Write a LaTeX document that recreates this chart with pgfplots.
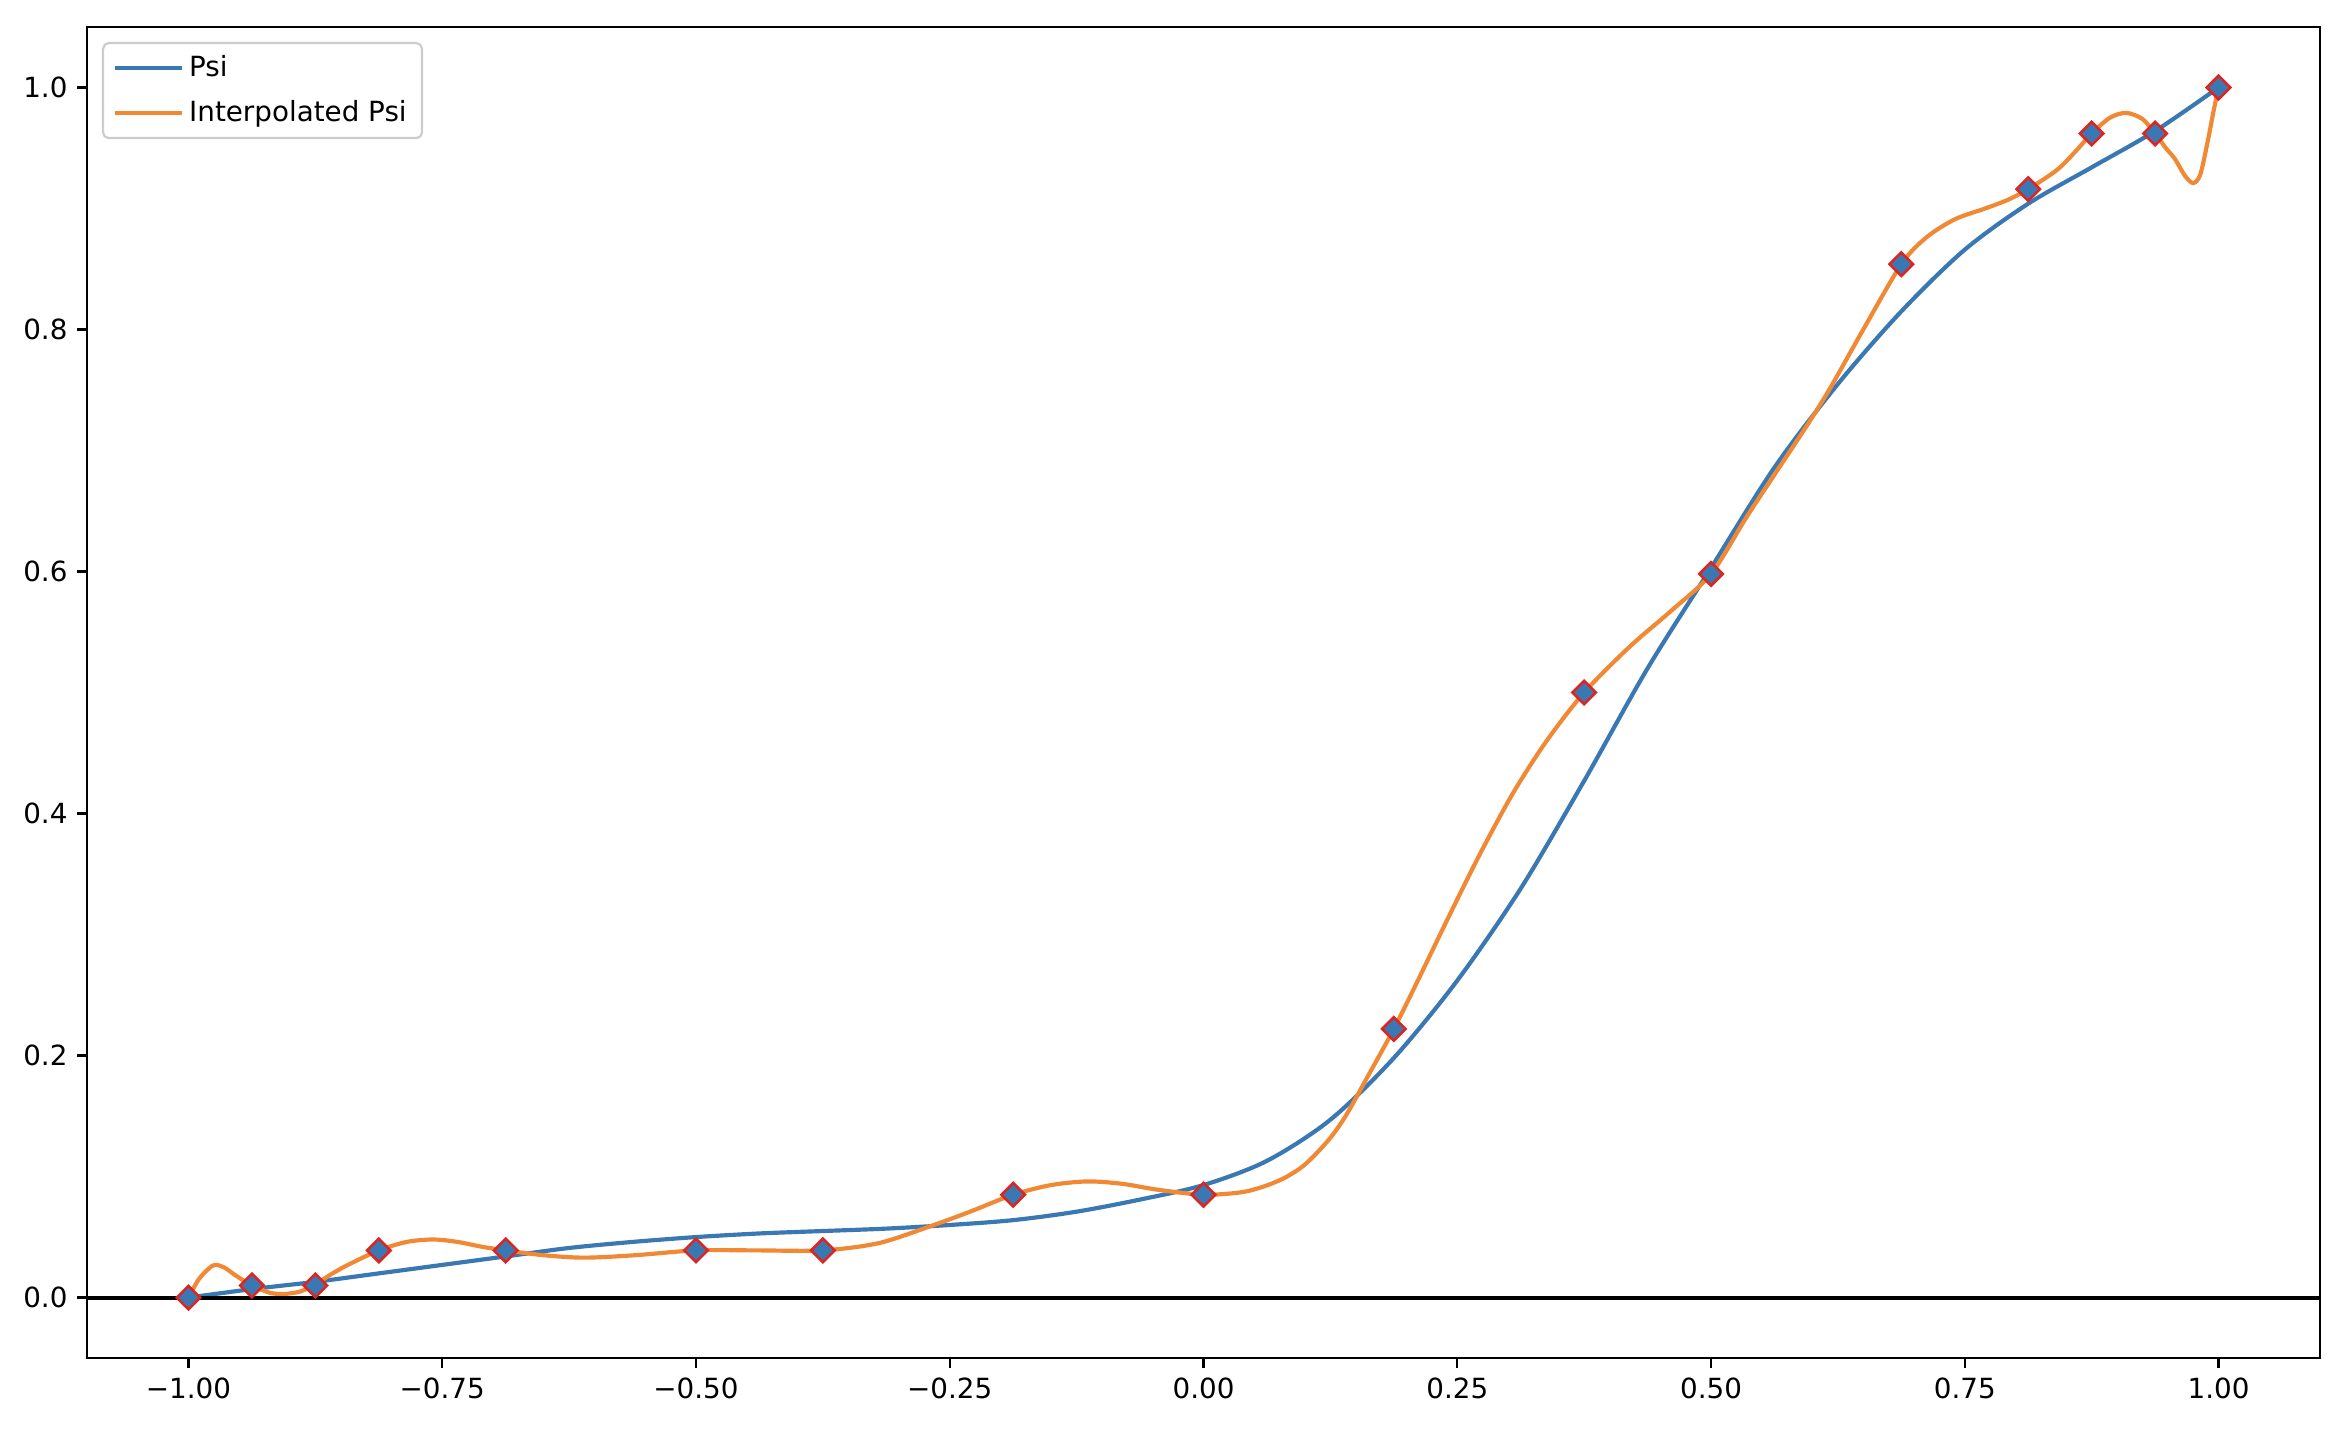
\documentclass[border=0pt]{standalone}
\usepackage{fontspec}
\setmainfont{DejaVu Sans}
\usepackage{pgfplots}
\pgfplotsset{compat=1.18}
\definecolor{psiblue}{RGB}{58,120,180}
\definecolor{psiorange}{RGB}{240,136,52}
\definecolor{mred}{RGB}{225,35,30}
\definecolor{legframe}{RGB}{204,204,204}
\begin{document}
\begin{tikzpicture}
\begin{axis}[name=ax,
  scale only axis, width=803.9pt, height=479.2pt,
  xmin=-1.1, xmax=1.1, ymin=-0.05, ymax=1.05,
  axis line style={line width=0.8pt},
  tick align=outside, tick pos=left, major tick length=3.5pt,
  every tick/.style={black, line width=0.8pt},
  xtick={-1,-0.75,-0.5,-0.25,0,0.25,0.5,0.75,1},
  xticklabels={−1.00,−0.75,−0.50,−0.25,0.00,0.25,0.50,0.75,1.00},
  ytick={0,0.2,0.4,0.6,0.8,1.0},
  yticklabels={0.0,0.2,0.4,0.6,0.8,1.0},
  tick label style={font=\fontsize{10}{12}\selectfont},
  legend style={at={(0,1)}, anchor=north west, xshift=5.4pt, yshift=-5.4pt,
    draw=legframe, line width=0.8pt, rounded corners=2pt, fill=white, fill opacity=0.8, text opacity=1,
    inner xsep=3.5pt, inner ysep=2.5pt, row sep=3pt,
    font=\fontsize{10}{12}\selectfont, cells={anchor=west}},
  legend image code/.code={\draw[#1, line width=1.5pt] (0pt,0pt) -- (20pt,0pt); \path (0pt,0pt) -- (24pt,0pt);},
]
% Psi
\addplot[psiblue, line width=1.5pt, smooth] coordinates {
(-1.0,0.000) (-0.9375,0.007) (-0.875,0.013) (-0.8125,0.020) (-0.75,0.027)
(-0.6875,0.034) (-0.625,0.041) (-0.5625,0.046) (-0.5,0.050) (-0.4375,0.053)
(-0.375,0.055) (-0.3125,0.057) (-0.25,0.060) (-0.1875,0.064) (-0.125,0.071)
(-0.0625,0.081) (0.0,0.093) (0.0625,0.113) (0.125,0.147) (0.1875,0.198)
(0.25,0.262) (0.3125,0.338) (0.375,0.427) (0.4375,0.520) (0.5,0.603)
(0.5625,0.686) (0.625,0.755) (0.6875,0.815) (0.75,0.866) (0.8125,0.904)
(0.875,0.934) (0.9375,0.964) (1.0,1.0)
};
\addlegendentry{Psi}
% sample points
\addplot[only marks, mark=square*, mark size=3.0pt,
  mark options={rotate=45, fill=psiblue, draw=mred, line width=0.9pt}, forget plot] coordinates {
(-1.0,0.0) (-0.9375,0.010) (-0.875,0.010) (-0.8125,0.039) (-0.6875,0.039)
(-0.5,0.039) (-0.375,0.039) (-0.1875,0.085) (0.0,0.085) (0.1875,0.222)
(0.375,0.500) (0.5,0.598) (0.6875,0.854) (0.8125,0.916) (0.875,0.962)
(0.9375,0.962) (1.0,1.0)
};
% Interpolated Psi
\addplot[psiorange, line width=1.5pt, smooth] coordinates {
(-1.0,0.0) (-0.99,0.015) (-0.98,0.024) (-0.974,0.027) (-0.965,0.025)
(-0.953,0.018) (-0.9375,0.010) (-0.92,0.004) (-0.906,0.003) (-0.89,0.005)
(-0.875,0.011) (-0.86,0.019) (-0.843,0.027) (-0.8125,0.039) (-0.785,0.046)
(-0.759,0.048) (-0.735,0.046) (-0.711,0.042) (-0.6875,0.039) (-0.65,0.035)
(-0.61,0.033) (-0.56,0.035) (-0.5,0.039) (-0.44,0.039) (-0.375,0.039)
(-0.32,0.045) (-0.269,0.059) (-0.23,0.071) (-0.1875,0.085) (-0.15,0.093)
(-0.114,0.096) (-0.08,0.094) (-0.044,0.089) (0.0,0.085) (0.037,0.087)
(0.06,0.092) (0.08,0.099) (0.10,0.110) (0.123,0.130) (0.14,0.150)
(0.16,0.180) (0.1875,0.222) (0.21,0.260) (0.24,0.312) (0.272,0.366)
(0.305,0.417) (0.338,0.460) (0.375,0.500)
(0.42,0.538) (0.46,0.567) (0.5,0.598) (0.535,0.645) (0.568,0.687)
(0.594,0.720) (0.617,0.751) (0.65,0.800) (0.6875,0.854) (0.712,0.876)
(0.74,0.891) (0.77,0.900) (0.792,0.907) (0.8125,0.916) (0.841,0.932)
(0.86,0.948) (0.875,0.962) (0.893,0.975) (0.909,0.979) (0.925,0.974)
(0.9375,0.962) (0.948,0.950) (0.957,0.941) (0.967,0.927) (0.975,0.921)
(0.982,0.928) (0.989,0.954) (0.995,0.980) (1.0,1.0)
};
\addlegendentry{Interpolated Psi}
% axhline
\addplot[black, line width=1.5pt, forget plot] coordinates {(-1.1,0) (1.1,0)};
\end{axis}
\path ([xshift=-31.32pt, yshift=-30.96pt]ax.south west) rectangle ([xshift=7.2pt, yshift=9.72pt]ax.north east);
\end{tikzpicture}
\end{document}
